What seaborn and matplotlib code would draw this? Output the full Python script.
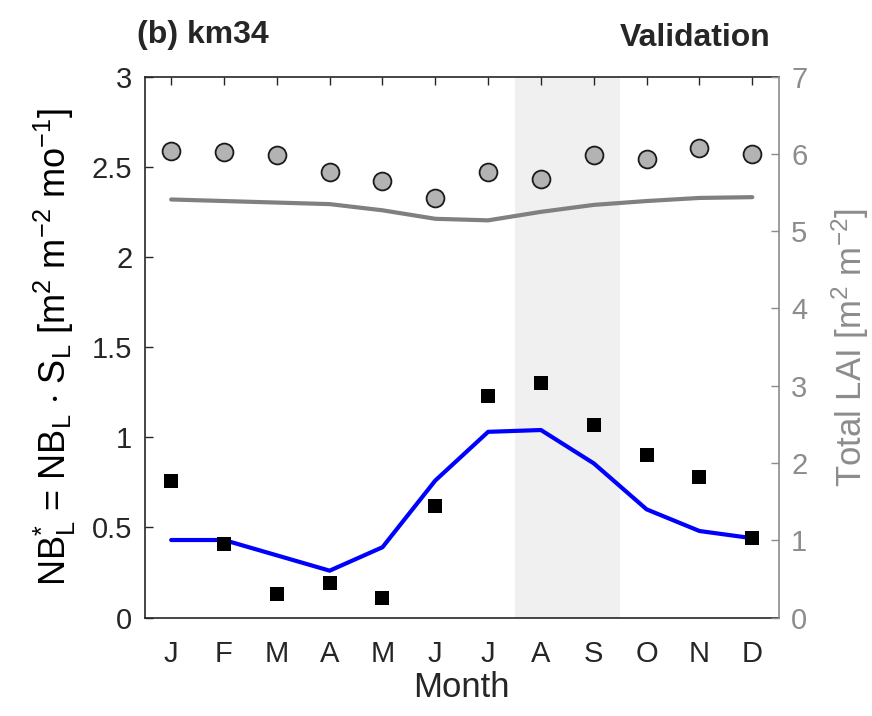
import numpy as np
import pandas as pd
import matplotlib
matplotlib.use("Agg")
import matplotlib.pyplot as plt
import seaborn as sns

# Monthly values, km34 site
months = ["J", "F", "M", "A", "M", "J", "J", "A", "S", "O", "N", "D"]
month_num = list(range(1, 13))
nb_observed = [0.76, 0.41, 0.13, 0.19, 0.11, 0.62, 1.23, 1.30, 1.07, 0.90, 0.78, 0.44]
nb_modeled = [0.43, 0.43, 0.345, 0.26, 0.39, 0.76, 1.03, 1.04, 0.855, 0.60, 0.48, 0.44]
lai_observed = [6.04, 6.02, 5.98, 5.76, 5.65, 5.43, 5.76, 5.68, 5.98, 5.94, 6.08, 6.00]
lai_modeled = [5.41, 5.39, 5.37, 5.35, 5.27, 5.16, 5.14, 5.25, 5.34, 5.39, 5.43, 5.44]
dry_season = (7.5, 9.5)

df = pd.DataFrame({
    "month": month_num,
    "nb_obs": nb_observed,
    "nb_mod": nb_modeled,
    "lai_obs": lai_observed,
    "lai_mod": lai_modeled,
})

sns.set_style("white")
plt.rcParams["font.family"] = ["Liberation Sans", "DejaVu Sans"]
plt.rcParams["mathtext.fontset"] = "custom"
plt.rcParams["mathtext.rm"] = "Liberation Sans"
plt.rcParams["mathtext.it"] = "Liberation Sans"
plt.rcParams["mathtext.default"] = "regular"

dark = "#262626"
grey_axis = "#8c8c8c"

fig = plt.figure(figsize=(8.72, 7.16), dpi=100)
ax = fig.add_axes([0.166, 0.1375, 0.727, 0.7555])

ax.axvspan(*dry_season, color="#f0f0f0", zorder=0, lw=0)

sns.lineplot(data=df, x="month", y="nb_mod", ax=ax, color="#0000ff", lw=3.0, zorder=3)
sns.scatterplot(data=df, x="month", y="nb_obs", ax=ax, color="black", marker="s",
                s=95, edgecolor="black", linewidth=0, zorder=4)

ax.set_xlim(0.5, 12.5)
ax.set_ylim(0, 3)
ax.set_xticks(month_num)
ax.set_xticklabels(months)
ax.set_yticks([0, 0.5, 1, 1.5, 2, 2.5, 3])
ax.set_yticklabels(["0", "0.5", "1", "1.5", "2", "2.5", "3"])
ax.tick_params(axis="both", direction="in", length=6, width=1, colors=dark,
               labelsize=21, top=True, right=False)
ax.tick_params(axis="x", pad=16)
ax.tick_params(axis="y", pad=9)
for side in ["left", "bottom", "top"]:
    ax.spines[side].set_color(dark)
    ax.spines[side].set_linewidth(1.2)
ax.spines["right"].set_visible(False)

ax.set_xlabel("Month", fontsize=25, color=dark, labelpad=2)
ax.set_ylabel(r"NB$_L^{*}$ = NB$_L$ $\cdot$ S$_L$ [m$^2$ m$^{-2}$ mo$^{-1}$]",
              fontsize=26, color="black", labelpad=10)

# Leaf area index on the right-hand axis
ax2 = ax.twinx()
sns.lineplot(data=df, x="month", y="lai_mod", ax=ax2, color="#808080", lw=3.0, zorder=3)
sns.scatterplot(data=df, x="month", y="lai_obs", ax=ax2, color="#b3b3b3", marker="o",
                s=165, edgecolor="#1a1a1a", linewidth=1.3, zorder=4)
ax2.set_ylim(0, 7)
ax2.set_yticks(range(0, 8))
ax2.tick_params(axis="y", direction="in", length=6, width=1, colors=grey_axis,
                labelsize=21, pad=9)
ax2.spines["right"].set_color(grey_axis)
ax2.spines["right"].set_linewidth(1.2)
for side in ["left", "top", "bottom"]:
    ax2.spines[side].set_visible(False)
ax2.set_xlabel("")
ax2.set_ylabel(r"Total LAI [m$^2$ m$^{-2}$]", fontsize=25, color=grey_axis, labelpad=16)
ax2.set_xlim(0.5, 12.5)

fig.text(0.157, 0.951, "(b) km34", fontsize=23, fontweight="bold", ha="left", va="center")
fig.text(0.884, 0.947, "Validation", fontsize=23, fontweight="bold", ha="right", va="center")

fig.savefig("out.png", dpi=100)
